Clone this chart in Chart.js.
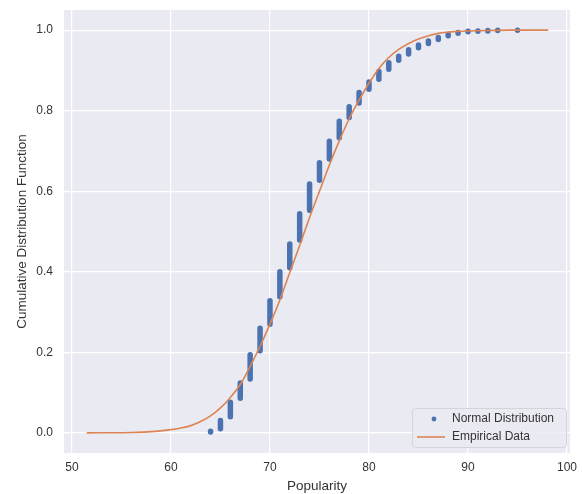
<!DOCTYPE html>
<html>
<head>
<meta charset="utf-8">
<script src="https://cdn.jsdelivr.net/npm/chart.js@4.4.1/dist/chart.umd.min.js"></script>
<style>
html, body { margin: 0; padding: 0; background: #fff; }
</style>
</head>
<body>
<canvas id="cdfChart" width="582" height="494"></canvas>
<script>
// blue streaks: each popularity value covers a vertical run of ECDF points
const popValues = [64, 65, 66, 67, 68, 69, 70, 71, 72, 73, 74, 75, 76, 77, 78, 79, 80, 81, 82, 83, 84, 85, 86, 87, 88, 89, 90, 91, 92, 93, 95];
const ecdfLow  = [0.002, 0.010, 0.040, 0.086, 0.134, 0.204, 0.270, 0.338, 0.410, 0.479, 0.553, 0.627, 0.680, 0.733, 0.783, 0.819, 0.853, 0.878, 0.903, 0.925, 0.941, 0.956, 0.967, 0.977, 0.986, 0.992, 0.996, 0.997, 0.998, 0.999, 0.9995];
const ecdfHigh = [0.004, 0.031, 0.076, 0.124, 0.194, 0.260, 0.328, 0.400, 0.469, 0.544, 0.618, 0.671, 0.724, 0.774, 0.810, 0.845, 0.871, 0.897, 0.919, 0.935, 0.951, 0.963, 0.973, 0.982, 0.990, 0.994, 0.997, 0.998, 0.999, 0.9995, 1.0];

// orange curve
const curveX = [51.5, 54, 56, 58, 60, 61, 62, 63, 64, 65, 66, 67, 68, 69, 70, 71, 72, 73, 74, 75, 76, 77, 78, 79, 80, 81, 82, 83, 84, 85, 86, 87, 88, 89, 90, 92, 94, 98.1];
const curveY = [0.0, 0.0003, 0.001, 0.003, 0.008, 0.012, 0.018, 0.028, 0.042, 0.062, 0.088, 0.12, 0.165, 0.215, 0.27, 0.33, 0.398, 0.465, 0.535, 0.6, 0.665, 0.725, 0.78, 0.826, 0.868, 0.905, 0.932, 0.952, 0.967, 0.978, 0.986, 0.992, 0.995, 0.997, 0.998, 0.999, 1.0, 1.0];

const xTicks = [50, 60, 70, 80, 90, 100];
const yTicks = [0, 0.2, 0.4, 0.6, 0.8, 1.0];

const BLUE = "#4c72b0";
const ORANGE = "#dd8452";
const FONT = '"Liberation Sans", Arial, sans-serif';

let streakData = [];
popValues.forEach((v, i) => {
    streakData.push({ x: v, y: ecdfLow[i] });
    streakData.push({ x: v, y: ecdfHigh[i] });
    streakData.push({ x: v, y: null });
});
let curveData = curveX.map((x, i) => ({ x: x, y: curveY[i] }));

// grey plot background, seaborn style
const plotBg = {
    id: "plotBg",
    beforeDraw(chart) {
        const { ctx, chartArea } = chart;
        ctx.save();
        ctx.fillStyle = "#eaeaf2";
        ctx.fillRect(chartArea.left, chartArea.top, chartArea.right - chartArea.left, chartArea.bottom - chartArea.top);
        ctx.restore();
    }
};

// legend sits inside the axes, lower right
const insideLegend = {
    id: "insideLegend",
    afterDatasetsDraw(chart) {
        const { ctx, chartArea } = chart;
        const w = 154, h = 39;
        const x0 = chartArea.right - w - 4, y0 = chartArea.bottom - h - 6;
        ctx.save();
        ctx.fillStyle = "rgba(234,234,242,0.85)";
        ctx.strokeStyle = "#d4d4d8";
        ctx.lineWidth = 1;
        ctx.beginPath();
        ctx.roundRect(x0 + 0.5, y0 + 0.5, w, h, 3);
        ctx.fill();
        ctx.stroke();
        ctx.font = "12px " + FONT;
        ctx.textBaseline = "middle";
        chart.data.datasets.forEach((ds, i) => {
            const y = y0 + 11 + i * 18;
            if (ds.legendType === "dot") {
                ctx.fillStyle = ds.borderColor;
                ctx.beginPath();
                ctx.arc(x0 + 22, y, 2.4, 0, Math.PI * 2);
                ctx.fill();
            } else {
                ctx.strokeStyle = ds.borderColor;
                ctx.lineWidth = 1.6;
                ctx.beginPath();
                ctx.moveTo(x0 + 5, y);
                ctx.lineTo(x0 + 33, y);
                ctx.stroke();
            }
            ctx.fillStyle = "#333";
            ctx.fillText(ds.label, x0 + 40, y);
        });
        ctx.restore();
    }
};

let ctx = document.getElementById("cdfChart").getContext("2d");
let cdfChart = new Chart(ctx, {
    type: "scatter",
    data: {
        datasets: [{
            label: "Normal Distribution",
            legendType: "dot",
            data: streakData,
            showLine: true,
            spanGaps: false,
            borderColor: BLUE,
            backgroundColor: BLUE,
            borderWidth: 5.5,
            borderCapStyle: "round",
            borderJoinStyle: "round",
            pointRadius: 0,
            order: 2
        }, {
            label: "Empirical Data",
            legendType: "line",
            data: curveData,
            showLine: true,
            borderColor: ORANGE,
            backgroundColor: ORANGE,
            borderWidth: 1.6,
            tension: 0.3,
            pointRadius: 0,
            order: 1
        }]
    },
    options: {
        responsive: false,
        animation: false,
        layout: { padding: { top: 10, right: 12, left: 0, bottom: 0 } },
        plugins: { legend: { display: false }, tooltip: { enabled: false } },
        scales: {
            x: {
                type: "linear",
                min: 49.2,
                max: 100.3,
                afterBuildTicks: axis => { axis.ticks = xTicks.map(v => ({ value: v })); },
                afterFit: axis => { axis.height = 41; axis.paddingLeft = 0; axis.paddingRight = 0; },
                grid: { color: "#ffffff", lineWidth: 1.2, drawTicks: false },
                border: { display: false },
                ticks: { padding: 7, color: "#333", font: { size: 12, family: FONT }, callback: v => v },
                title: { display: true, text: "Popularity", color: "#333", font: { size: 13.5, family: FONT }, padding: { top: 3, bottom: 0 } }
            },
            y: {
                min: -0.05,
                max: 1.05,
                afterBuildTicks: axis => { axis.ticks = yTicks.map(v => ({ value: v })); },
                afterFit: axis => { axis.width = 64; axis.paddingTop = 0; axis.paddingBottom = 0; },
                grid: { color: "#ffffff", lineWidth: 1.2, drawTicks: false },
                border: { display: false },
                ticks: { padding: 11, color: "#333", font: { size: 12, family: FONT }, callback: v => v.toFixed(1) },
                title: { display: true, text: "Cumulative Distribution Function", color: "#333", font: { size: 13.5, family: FONT }, padding: { top: 14, bottom: 0 } }
            }
        }
    },
    plugins: [plotBg, insideLegend]
});
</script>
</body>
</html>
